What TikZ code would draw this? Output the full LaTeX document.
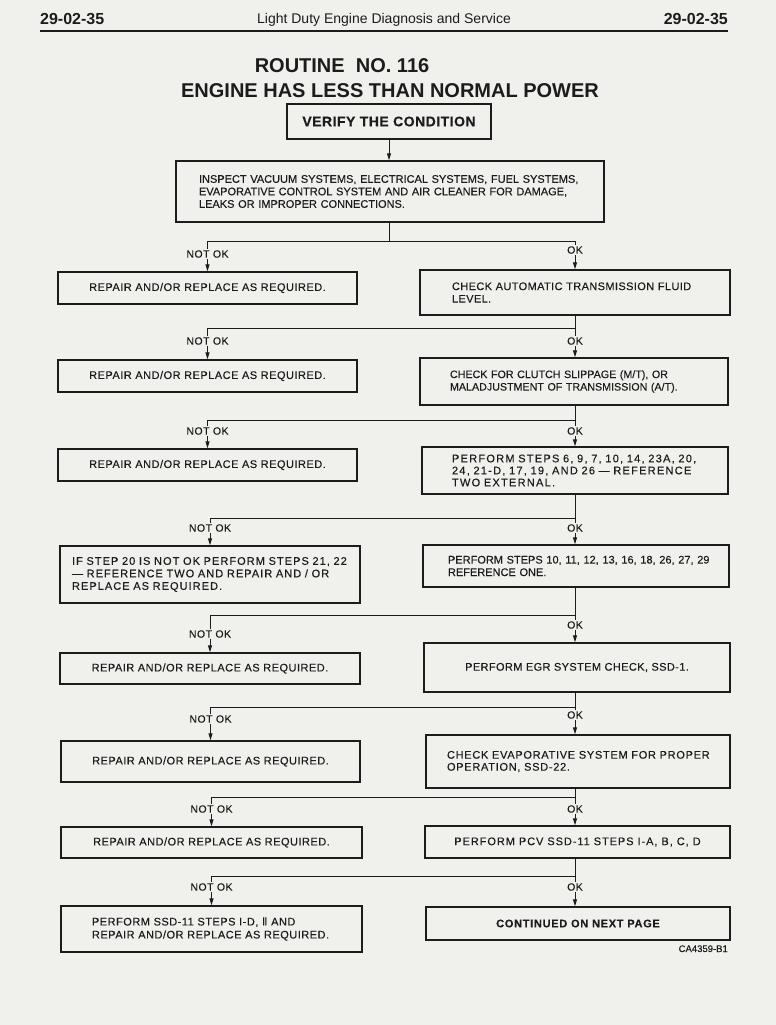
\documentclass[tikz,border=0pt]{standalone}
\usepackage{fontspec}
\setmainfont{Liberation Sans}
\newfontfamily\fzero[FakeBold=0.25]{Liberation Sans}
\newfontfamily\fthree[LetterSpace=3.5,FakeBold=0.25]{Liberation Sans}
\newfontfamily\ffour[LetterSpace=4.5,FakeBold=0.25]{Liberation Sans}
\newfontfamily\fsix[LetterSpace=6.5,FakeBold=0.25]{Liberation Sans}
\newfontfamily\fnine[LetterSpace=8.5,FakeBold=0.25]{Liberation Sans}
\newfontfamily\ften[LetterSpace=9.5,FakeBold=0.25]{Liberation Sans}
\newfontfamily\ftwelve[LetterSpace=11.5,FakeBold=0.25]{Liberation Sans}
\newfontfamily\romfont[FakeBold=0.25]{DejaVu Sans}
\usetikzlibrary{arrows.meta}
\definecolor{paper}{RGB}{240,240,237}
\definecolor{ink}{RGB}{28,28,28}
\newcommand{\bsz}{\fontsize{11}{12.5}\selectfont}
\begin{document}
\begin{tikzpicture}[x=1pt,y=-1pt,
  box/.style={draw=ink,line width=1.4pt,rectangle,inner ysep=0pt,text=ink},
  conn/.style={draw=ink,line width=1pt},
  arr/.style={conn,-{Triangle[length=7pt,width=4pt]}},
  lab/.style={fill=paper,inner sep=0.8pt,text=ink,font=\ffour\fontsize{10.5}{11}\selectfont}]
\fill[paper] (0,0) rectangle (776,1025);
\useasboundingbox (0,0) rectangle (776,1025);

% header
\node[anchor=base west,inner sep=0pt,text=ink,font=\bfseries\fontsize{16}{16}\selectfont] (pgl) at (40,25) {29-02-35};
\node[anchor=base,inner sep=0pt,text=ink,font=\fontsize{14}{14}\selectfont] (hdr) at (384,24) {Light Duty Engine Diagnosis and Service};
\node[anchor=base east,inner sep=0pt,text=ink,font=\bfseries\fontsize{16}{16}\selectfont] (pgr) at (728,25) {29-02-35};
\draw[ink,line width=2.4pt] (40,31) -- (728,31);

% title
\node[anchor=base,inner sep=0pt,text=ink,font=\bfseries\fontsize{20}{20}\selectfont] (t1) at (342,73) {ROUTINE\ \ NO. 116};
\node[anchor=base,inner sep=0pt,text=ink,font=\bfseries\fontsize{20}{20}\selectfont] (t2) at (390,97) {ENGINE HAS LESS THAN NORMAL POWER};

% top boxes
\node[box,minimum width=204pt,minimum height=35pt,font=\fthree\bfseries\fontsize{14}{14}\selectfont] (verify) at (389,121.5) {VERIFY THE CONDITION};
\node[box,minimum width=428pt,minimum height=61pt,text width=382pt,inner xsep=23pt,align=left,font=\fzero\bsz] (inspect) at (390,191.5)
 {\mbox{INSPECT VACUUM SYSTEMS, ELECTRICAL SYSTEMS, FUEL SYSTEMS,}\\\mbox{EVAPORATIVE CONTROL SYSTEM AND AIR CLEANER FOR DAMAGE,}\\LEAKS OR IMPROPER CONNECTIONS.};

% left column
\node[box,minimum width=299pt,minimum height=32pt,font=\ffour\bsz] (L1) at (207.5,288) {REPAIR AND/OR REPLACE AS REQUIRED.};
\node[box,minimum width=299pt,minimum height=32pt,font=\ffour\bsz] (L2) at (207.5,376) {REPAIR AND/OR REPLACE AS REQUIRED.};
\node[box,minimum width=299pt,minimum height=32pt,font=\ffour\bsz] (L3) at (207.5,465) {REPAIR AND/OR REPLACE AS REQUIRED.};
\node[box,minimum width=300pt,minimum height=57pt,text width=276pt,inner xsep=12pt,align=left,font=\ften\bsz] (L4) at (210,574.5)
 {\mbox{IF STEP 20 IS NOT OK PERFORM STEPS 21, 22}\\\mbox{— REFERENCE TWO AND REPAIR AND / OR}\\REPLACE AS REQUIRED.};
\node[box,minimum width=300pt,minimum height=31pt,font=\ffour\bsz] (L5) at (210,668.5) {REPAIR AND/OR REPLACE AS REQUIRED.};
\node[box,minimum width=299pt,minimum height=41pt,font=\ffour\bsz] (L6) at (210.5,761.5) {REPAIR AND/OR REPLACE AS REQUIRED.};
\node[box,minimum width=301pt,minimum height=31pt,font=\ffour\bsz] (L7) at (211.5,842.5) {REPAIR AND/OR REPLACE AS REQUIRED.};
\node[box,minimum width=301pt,minimum height=46pt,text width=239pt,inner xsep=31pt,align=left,font=\ffour\fontsize{11}{13}\selectfont] (L8) at (211.5,929)
 {\mbox{PERFORM\ SSD-11\ STEPS\ I-D,\ {\romfont\fontsize{11}{11}\selectfont Ⅱ}\ AND}\\\mbox{REPAIR AND/OR REPLACE AS REQUIRED.}};

% right column
\node[box,minimum width=310pt,minimum height=45pt,text width=246pt,inner xsep=32pt,align=left,font=\fthree\bsz] (R1) at (575,292.5)
 {\mbox{CHECK AUTOMATIC TRANSMISSION FLUID}\\LEVEL.};
\node[box,minimum width=308pt,minimum height=47pt,text width=248pt,inner xsep=30pt,align=left,font=\fzero\fontsize{10.7}{12.5}\selectfont] (R2) at (574,381.5)
 {\mbox{CHECK FOR CLUTCH SLIPPAGE (M/T), OR}\\\mbox{MALADJUSTMENT OF TRANSMISSION (A/T).}};
\node[box,minimum width=306pt,minimum height=47pt,text width=246pt,inner xsep=30pt,align=left,font=\ftwelve\fontsize{11}{12}\selectfont] (R3) at (575,470.5)
 {\mbox{PERFORM STEPS 6, 9, 7, 10, 14, 23A, 20,}\\\mbox{24, 21-D, 17, 19, AND 26 — REFERENCE}\\TWO EXTERNAL.};
\node[box,minimum width=306pt,minimum height=42pt,text width=256pt,inner xsep=25pt,align=left,font=\fzero\bsz] (R4) at (576,566)
 {\mbox{PERFORM STEPS 10, 11, 12, 13, 16, 18, 26, 27, 29}\\REFERENCE ONE.};
\node[box,minimum width=306pt,minimum height=49pt,font=\fthree\bsz] (R5) at (577,667.5) {PERFORM EGR SYSTEM CHECK, SSD-1.};
\node[box,minimum width=304pt,minimum height=53pt,text width=262pt,inner xsep=21pt,align=left,font=\fsix\fontsize{11}{12}\selectfont] (R6) at (578,761.5)
 {\mbox{CHECK EVAPORATIVE SYSTEM FOR PROPER}\\OPERATION, SSD-22.};
\node[box,minimum width=305pt,minimum height=32pt,font=\fnine\bsz] (R7) at (577.5,842) {PERFORM PCV SSD-11 STEPS I-A, B, C, D};
\node[box,minimum width=304pt,minimum height=33pt,font=\fsix\bfseries\bsz] (R8) at (578,923.5) {CONTINUED ON NEXT PAGE};

\node[anchor=base east,inner sep=0pt,text=ink,font=\fzero\fontsize{9.5}{10}\selectfont] (code) at (728,952) {CA4359-B1};

% junctions
\coordinate (j1) at (389,241);
\coordinate (j2) at (575,328);
\coordinate (j3) at (575,420);
\coordinate (j4) at (575,518);
\coordinate (j5) at (575,615);
\coordinate (j6) at (575,707);
\coordinate (j7) at (575,797);
\coordinate (j8) at (575,876);

% connectors
\draw[arr] (verify.south) -- (verify.south |- inspect.north);
\draw[conn] (inspect.south -| j1) -- (j1);
\draw[arr] (j1) -| (L1.north);
\draw[arr] (j1) -| (R1.north -| j2);

\draw[conn] (R1.south -| j2) -- (j2);
\draw[arr] (j2) -- (R2.north -| j2);
\draw[arr] (j2) -| (L2.north);

\draw[conn] (R2.south -| j3) -- (j3);
\draw[arr] (j3) -- (R3.north -| j3);
\draw[arr] (j3) -| (L3.north);

\draw[conn] (R3.south -| j4) -- (j4);
\draw[arr] (j4) -- (R4.north -| j4);
\draw[arr] (j4) -| (L4.north);

\draw[conn] (R4.south -| j5) -- (j5);
\draw[arr] (j5) -- (R5.north -| j5);
\draw[arr] (j5) -| (L5.north);

\draw[conn] (R5.south -| j6) -- (j6);
\draw[arr] (j6) -- (R6.north -| j6);
\draw[arr] (j6) -| (L6.north);

\draw[conn] (R6.south -| j7) -- (j7);
\draw[arr] (j7) -- (R7.north -| j7);
\draw[arr] (j7) -| (L7.north);

\draw[conn] (R7.south -| j8) -- (j8);
\draw[arr] (j8) -- (R8.north -| j8);
\draw[arr] (j8) -| (L8.north);

% labels
\node[lab] (n1) at (L1.north |- 0,254) {NOT OK};
\node[lab] (o1) at (575,250) {OK};
\node[lab] (n2) at (L2.north |- 0,341) {NOT OK};
\node[lab] (o2) at (575,341) {OK};
\node[lab] (n3) at (L3.north |- 0,431) {NOT OK};
\node[lab] (o3) at (575,431) {OK};
\node[lab] (n4) at (L4.north |- 0,528) {NOT OK};
\node[lab] (o4) at (575,528) {OK};
\node[lab] (n5) at (L5.north |- 0,634) {NOT OK};
\node[lab] (o5) at (575,625) {OK};
\node[lab] (n6) at (L6.north |- 0,719) {NOT OK};
\node[lab] (o6) at (575,715) {OK};
\node[lab] (n7) at (L7.north |- 0,809) {NOT OK};
\node[lab] (o7) at (575,809) {OK};
\node[lab] (n8) at (L8.north |- 0,887) {NOT OK};
\node[lab] (o8) at (575,887) {OK};
\end{tikzpicture}
\end{document}
